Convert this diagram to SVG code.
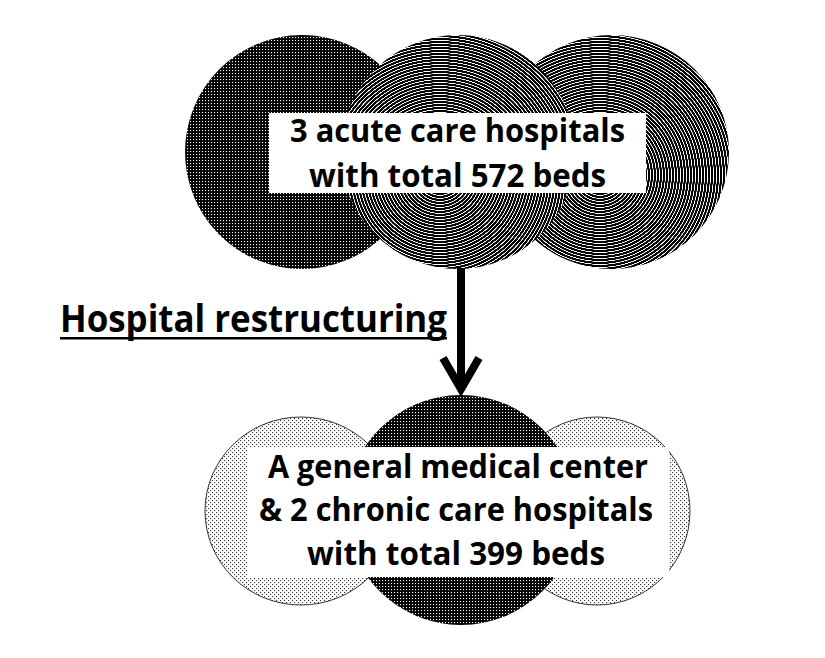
<svg xmlns="http://www.w3.org/2000/svg" width="825" height="658" viewBox="0 0 825 658">
  <defs>
    <pattern id="darkDots" width="3" height="3" patternUnits="userSpaceOnUse">
      <rect width="3" height="3" fill="#000"/>
      <rect x="1" y="1" width="1.1" height="1.1" fill="#fff"/>
    </pattern>
    <pattern id="lightDots" width="4" height="4" patternUnits="userSpaceOnUse">
      <rect width="4" height="4" fill="#fff"/>
      <rect x="0" y="0" width="1.1" height="1.1" fill="#333"/>
      <rect x="2" y="2" width="1.1" height="1.1" fill="#333"/>
    </pattern>
    <radialGradient id="ringsMid" gradientUnits="userSpaceOnUse" cx="440" cy="175" r="3" spreadMethod="repeat">
      <stop offset="0" stop-color="#000"/>
      <stop offset="0.6" stop-color="#000"/>
      <stop offset="0.68" stop-color="#fff"/>
      <stop offset="0.9" stop-color="#fff"/>
      <stop offset="0.98" stop-color="#000"/>
    </radialGradient>
    <radialGradient id="ringsRight" gradientUnits="userSpaceOnUse" cx="600" cy="175" r="3" spreadMethod="repeat">
      <stop offset="0" stop-color="#000"/>
      <stop offset="0.6" stop-color="#000"/>
      <stop offset="0.68" stop-color="#fff"/>
      <stop offset="0.9" stop-color="#fff"/>
      <stop offset="0.98" stop-color="#000"/>
    </radialGradient>
    <style>
      .lbl { font-family: "Open Sans", "Noto Sans", "Liberation Sans", sans-serif; font-weight: 700; fill: #000; text-anchor: middle; }
      .box { fill: #fff; }
      .thin { stroke: #333; stroke-width: 1; }
    </style>
  </defs>
  <rect width="825" height="658" fill="#fff"/>

  <g id="node-top">
    <circle cx="612" cy="152" r="117" fill="url(#ringsRight)"/>
    <circle cx="302" cy="152" r="117" fill="url(#darkDots)"/>
    <circle cx="458" cy="152" r="117" fill="url(#ringsMid)"/>
    <rect class="box" x="269" y="113" width="377" height="80"/>
    <text class="lbl" x="457.5" y="142" font-size="32" textLength="335" lengthAdjust="spacingAndGlyphs">3 acute care hospitals</text>
    <text class="lbl" x="457.5" y="187" font-size="32" textLength="297" lengthAdjust="spacingAndGlyphs">with total 572 beds</text>
  </g>

  <g id="node-bottom">
    <ellipse class="thin" cx="301" cy="511" rx="96" ry="94" fill="url(#lightDots)"/>
    <ellipse class="thin" cx="597" cy="511" rx="93" ry="94" fill="url(#lightDots)"/>
    <circle cx="461" cy="510" r="115" fill="url(#darkDots)"/>
    <rect class="box" x="247" y="447" width="422" height="130"/>
    <text class="lbl" x="458" y="478" font-size="32" textLength="380" lengthAdjust="spacingAndGlyphs">A general medical center</text>
    <text class="lbl" x="456" y="521" font-size="32" textLength="394" lengthAdjust="spacingAndGlyphs">&amp; 2 chronic care hospitals</text>
    <text class="lbl" x="456" y="565" font-size="32" textLength="298" lengthAdjust="spacingAndGlyphs">with total 399 beds</text>
  </g>

  <g id="connectors">
    <line x1="461" y1="268" x2="461" y2="386" stroke="#000" stroke-width="8"/>
    <path d="M443,358 L461,389 L479,358" fill="none" stroke="#000" stroke-width="8" stroke-linejoin="miter" stroke-miterlimit="10"/>
  </g>

  <g id="label-restructuring">
    <text class="lbl" x="60" y="332" font-size="38" style="text-anchor:start" textLength="387" lengthAdjust="spacingAndGlyphs">Hospital restructuring</text>
    <rect x="60" y="337" width="387" height="2.5" fill="#000"/>
  </g>
</svg>
